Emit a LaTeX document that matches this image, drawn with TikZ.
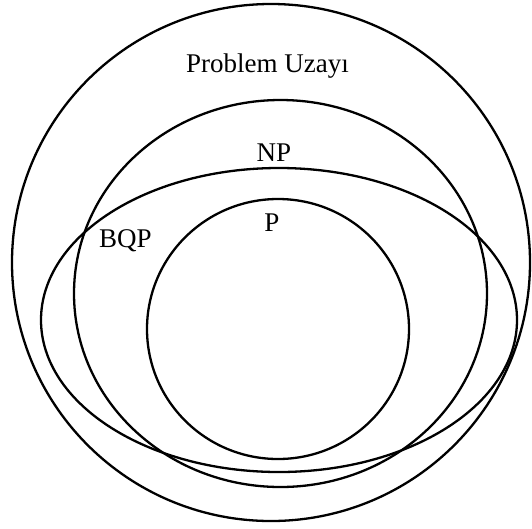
\documentclass[tikz,border=0pt]{standalone}
\usepackage{fontspec}
\setmainfont{Liberation Serif}
\begin{document}
\begin{tikzpicture}[x=1pt,y=-1pt,
  setline/.style={draw=black,line width=2.3pt},
  lbl/.style={anchor=base,inner sep=0pt,font=\fontsize{27}{30}\selectfont}]
\useasboundingbox (0,0) rectangle (532,528);
\clip (0,0) rectangle (532,528);
% Problem space
\draw[setline] (271,262.5) ellipse [x radius=259, y radius=258.5];
% NP
\draw[setline] (280.5,293.5) ellipse [x radius=206.5, y radius=193.5];
% BQP
\draw[setline] (279,320) ellipse [x radius=238, y radius=152];
% P
\draw[setline] (278,329) ellipse [x radius=131, y radius=130];
% labels
\node[lbl] (space) at (267.5,72) {Problem Uzayı};
\node[lbl] (np) at (274,161.5) {NP};
\node[lbl] (bqp) at (125.5,247) {BQP};
\node[lbl] (p) at (272,231) {P};
\end{tikzpicture}
\end{document}
